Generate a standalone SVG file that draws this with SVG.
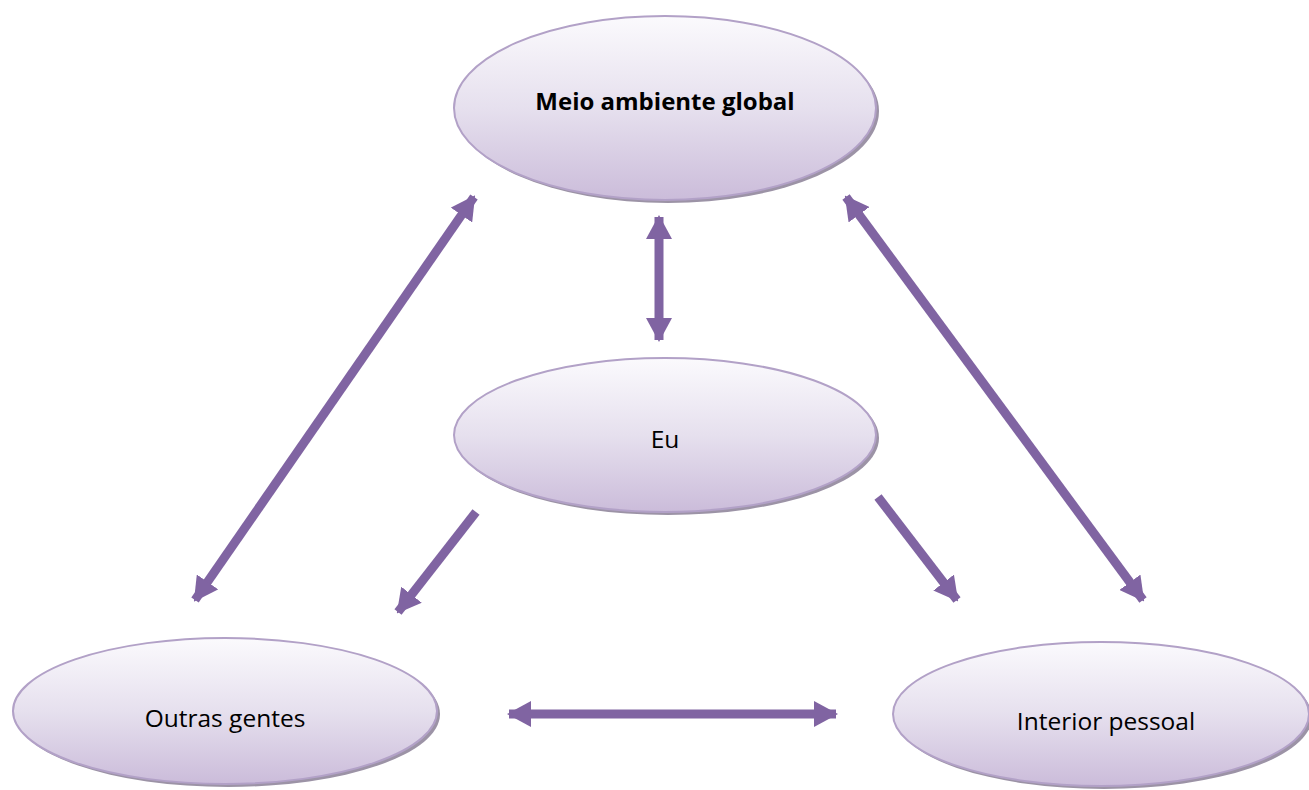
<svg xmlns="http://www.w3.org/2000/svg" width="1309" height="790" viewBox="0 0 1309 790">
<defs>
<linearGradient id="g" x1="0" y1="0" x2="0" y2="1">
<stop offset="0" stop-color="#fbfafd"/>
<stop offset="0.5" stop-color="#e6e0ee"/>
<stop offset="1" stop-color="#cbbcda"/>
</linearGradient>
<marker id="ah" viewBox="0 0 24 26" refX="22" refY="13" markerWidth="24" markerHeight="26" markerUnits="userSpaceOnUse" orient="auto-start-reverse">
<path d="M0,0 L24,13 L0,26 z" fill="#8064a2"/>
</marker>
</defs>
<style>
.sh{fill:#9c93a6;}
.el{fill:url(#g);stroke:#b2a1c7;stroke-width:2;}
.t{font-family:"Open Sans","Liberation Sans",sans-serif;font-size:24.5px;fill:#000;text-anchor:middle;}
.b{font-weight:bold;font-size:24px;}
.c{stroke:#8064a2;stroke-width:9;fill:none;}
</style>
<g id="node-meio">
<ellipse class="sh" cx="668" cy="111" rx="211" ry="92"/>
<ellipse class="el" cx="665" cy="108" rx="211" ry="92"/>
<text class="t b" x="665" y="110">Meio ambiente global</text>
</g>
<g id="node-eu">
<ellipse class="sh" cx="668" cy="438" rx="211" ry="77"/>
<ellipse class="el" cx="665" cy="435" rx="211" ry="77"/>
<text class="t" x="665" y="448">Eu</text>
</g>
<g id="node-outras">
<ellipse class="sh" cx="228" cy="714" rx="212" ry="73"/>
<ellipse class="el" cx="225" cy="711" rx="212" ry="73"/>
<text class="t" x="225" y="727">Outras gentes</text>
</g>
<g id="node-interior">
<ellipse class="sh" cx="1104" cy="717" rx="208" ry="72"/>
<ellipse class="el" cx="1101" cy="714" rx="208" ry="72"/>
<text class="t" x="1106" y="730">Interior pessoal</text>
</g>
<g id="connectors">
<line class="c" x1="659" y1="217" x2="659" y2="340" marker-start="url(#ah)" marker-end="url(#ah)"/>
<line class="c" x1="474" y1="197" x2="195" y2="600" marker-start="url(#ah)" marker-end="url(#ah)"/>
<line class="c" x1="846" y1="197" x2="1143" y2="600" marker-start="url(#ah)" marker-end="url(#ah)"/>
<line class="c" x1="476" y1="512" x2="398" y2="612" marker-end="url(#ah)"/>
<line class="c" x1="878" y1="497" x2="957" y2="600" marker-end="url(#ah)"/>
<line class="c" x1="509" y1="714" x2="836" y2="714" marker-start="url(#ah)" marker-end="url(#ah)"/>
</g>
</svg>
